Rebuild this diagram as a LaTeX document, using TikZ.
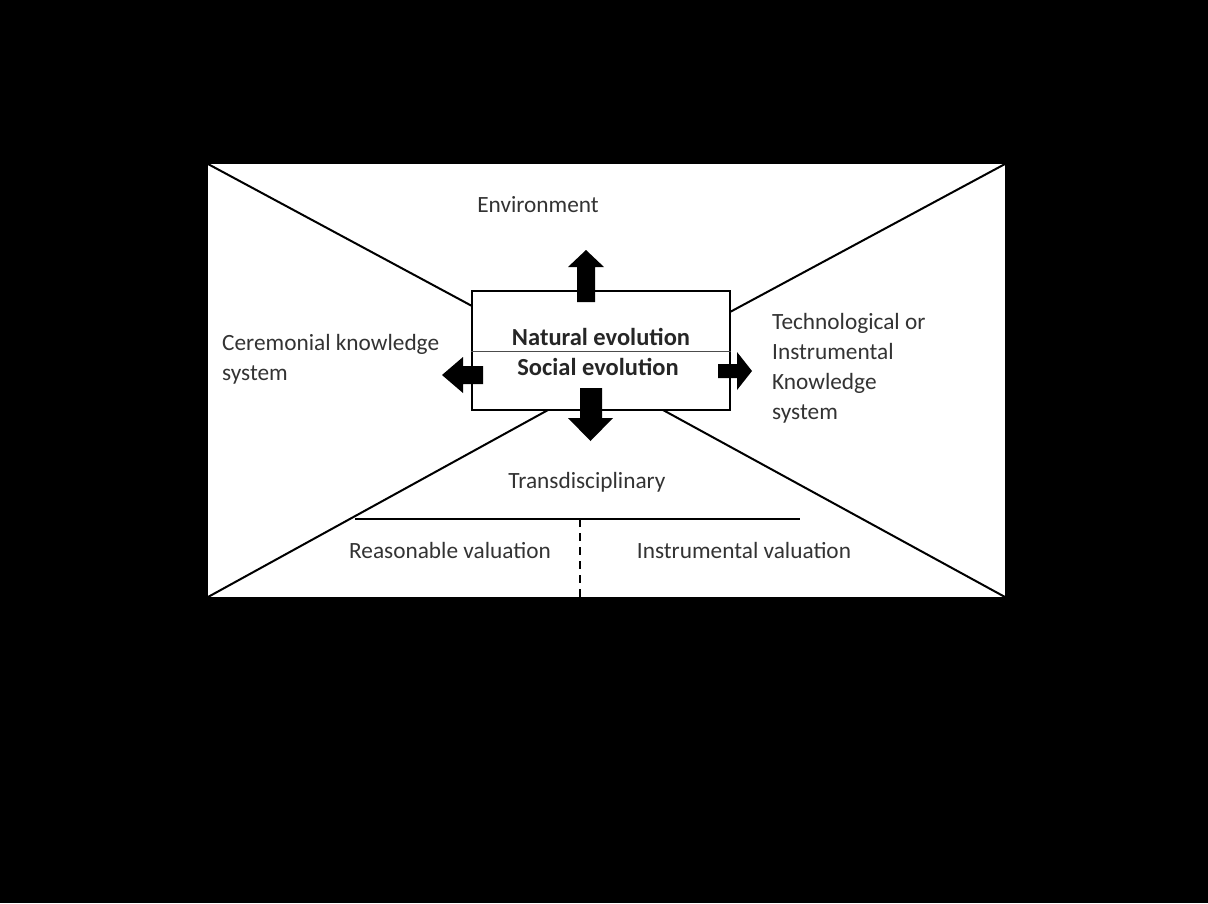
\documentclass[tikz,border=0pt]{standalone}
\usepackage{fontspec}
\setmainfont{Carlito}
\begin{document}
\begin{tikzpicture}[x=1pt,y=-1pt,
  lbl/.style={font=\fontsize{23.3}{30}\selectfont, text=black!80, inner sep=0pt},
  bld/.style={font=\bfseries\fontsize{24.5}{30}\selectfont, text=black!85, inner sep=0pt},
  diag/.style={line width=2pt},
  blk/.style={fill=black, draw=none}]
\useasboundingbox (0,0) rectangle (1208,903);
\fill[black] (0,0) rectangle (1208,903);
\fill[white] (208,164) rectangle (1005,597);
\coordinate (tl) at (208,164);
\coordinate (tr) at (1005,164);
\coordinate (bl) at (208,597);
\coordinate (br) at (1005,597);
% central box
\node[draw, line width=2.6pt, fill=white, minimum width=258pt, minimum height=119pt, inner sep=0pt] (box) at (601,350.5) {};
\coordinate (btl) at (472,306);
\coordinate (btr) at (730,312);
\coordinate (bbl) at (548,410);
\coordinate (bbr) at (663,410);
\draw[diag] (tl) -- (btl);
\draw[diag] (tr) -- (btr);
\draw[diag] (bl) -- (bbl);
\draw[diag] (br) -- (bbr);
\draw[line width=0.8pt, black!70] (box.west |- 0,351) -- (box.east |- 0,351);
\node[bld] (nat) at (601,337) {Natural evolution};
\node[bld] (soc) at (598,367) {Social evolution};
% block arrows
\fill[blk] (577,302) -- (577,267) -- (568,267) -- (586,250) -- (604,267) -- (595,267) -- (595,302) -- cycle;
\fill[blk] (580,388) -- (580,418) -- (568,418) -- (590.5,441) -- (613,418) -- (602,418) -- (602,388) -- cycle;
\fill[blk] (483,366) -- (463,366) -- (463,357) -- (442,375) -- (463,393) -- (463,384) -- (483,384) -- cycle;
\fill[blk] (718,364) -- (737,364) -- (737,352) -- (752,371) -- (737,390) -- (737,378) -- (718,378) -- cycle;
% labels
\node[lbl] (env) at (538,205) {Environment};
\node[lbl, anchor=west, align=left] (cer) at (222,359) {Ceremonial knowledge\\system};
\node[lbl, anchor=west, align=left] (tech) at (772,368) {Technological or\\Instrumental\\Knowledge\\system};
\node[lbl] (trans) at (587,482) {Transdisciplinary};
\node[lbl] (reas) at (450,550) {Reasonable valuation};
\node[lbl] (inst) at (744,550) {Instrumental valuation};
% bottom lines
\coordinate (hl) at (355,519);
\coordinate (hr) at (800,519);
\coordinate (dtop) at (580,519);
\coordinate (dbot) at (580,597);
\draw[line width=1.6pt] (hl) -- (hr);
\draw[line width=1.6pt, dash pattern=on 8pt off 6pt] (dtop) -- (dbot);
\end{tikzpicture}
\end{document}
